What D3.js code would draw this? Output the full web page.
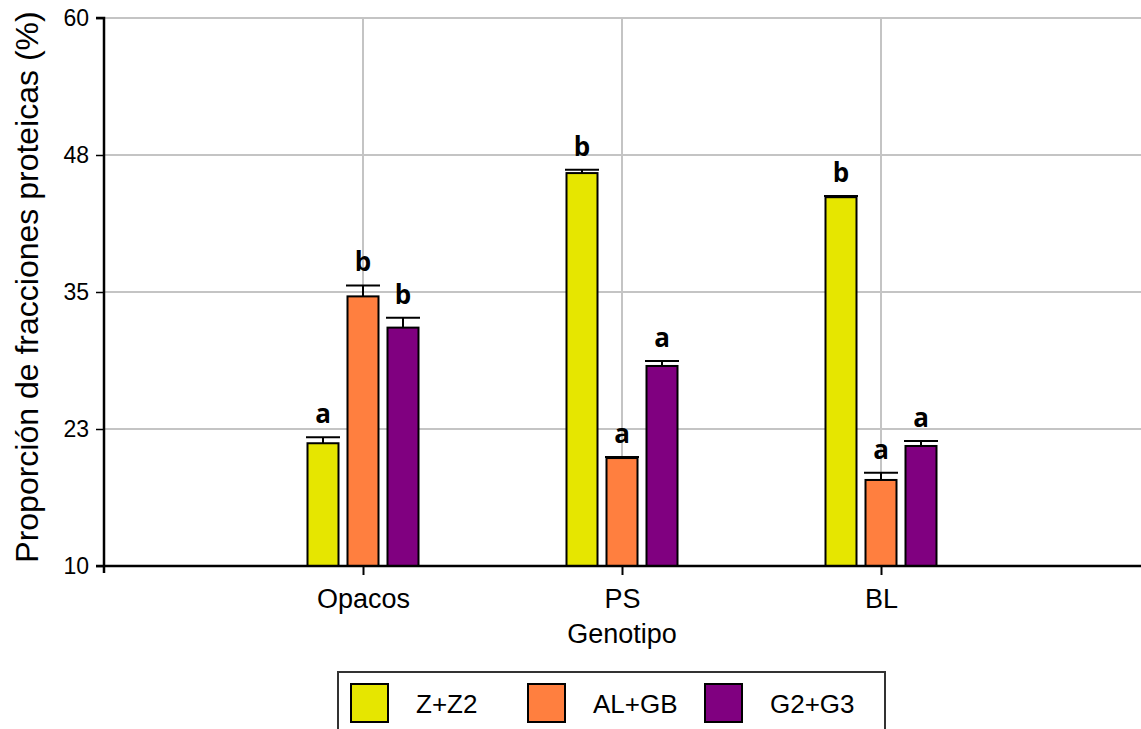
<!DOCTYPE html>
<html>
<head>
<meta charset="utf-8">
<script src="https://cdn.jsdelivr.net/npm/d3@7"></script>
<style>
  html, body { margin: 0; padding: 0; background: #ffffff; }
  svg { display: block; }
</style>
</head>
<body>
<svg id="chart" width="1141" height="729"></svg>
<script>
// Genotypes on the x axis and protein fraction groups in the legend
const categories = ["Opacos", "PS", "BL"];
const seriesNames = ["Z+Z2", "AL+GB", "G2+G3"];
const seriesColors = ["#e6e600", "#ff7f3f", "#800080"];

// Mean proportion (%) per genotype, with error bar half-length
const zValues = [21.2, 45.85, 43.65];
const zErrors = [0.55, 0.3, 0.1];
const alValues = [34.6, 19.85, 17.85];
const alErrors = [1.0, 0.1, 0.65];
const gValues = [31.75, 28.25, 20.95];
const gErrors = [0.9, 0.45, 0.45];

// Significance letters
const zLetters = ["a", "b", "b"];
const alLetters = ["b", "a", "a"];
const gLetters = ["b", "a", "a"];

// Y axis ticks and the labels printed next to them
const yTickValues = [10, 22.5, 35, 47.5, 60];
const yTickLabels = ["10", "23", "35", "48", "60"];

const yTitle = "Proporción de fracciones proteicas (%)";
const xTitle = "Genotipo";

const seriesValues = [zValues, alValues, gValues];
const seriesErrors = [zErrors, alErrors, gErrors];
const seriesLetters = [zLetters, alLetters, gLetters];

const rows = [];
categories.forEach((c, i) => {
  seriesNames.forEach((s, j) => {
    rows.push({
      category: c, series: s, color: seriesColors[j],
      value: seriesValues[j][i], error: seriesErrors[j][i], letter: seriesLetters[j][i]
    });
  });
});

const svg = d3.select("#chart");
const plotLeft = 104, plotRight = 1140, plotTop = 18, plotBottom = 566;

const x = d3.scalePoint().domain(categories).range([plotLeft, plotRight]).padding(1);
const xs = d3.scaleBand().domain(seriesNames).range([-60, 60])
  .paddingInner(0.225).paddingOuter(0.1125);
const y = d3.scaleLinear().domain([10, 60]).range([plotBottom, plotTop]);

const fontSans = "Arial, 'Liberation Sans', sans-serif";
const barCenter = d => x(d.category) + xs(d.series) + xs.bandwidth() / 2;

// Grid
const grid = svg.append("g").attr("stroke", "#c4c4c4").attr("stroke-width", 2);
grid.selectAll("line.h").data(yTickValues.slice(1)).join("line")
  .attr("class", "h")
  .attr("x1", plotLeft).attr("x2", 1141)
  .attr("y1", d => y(d)).attr("y2", d => y(d));
grid.selectAll("line.v").data(categories).join("line")
  .attr("class", "v")
  .attr("x1", d => x(d)).attr("x2", d => x(d))
  .attr("y1", y(60)).attr("y2", plotBottom);

// Bars
svg.append("g").selectAll("rect").data(rows).join("rect")
  .attr("x", d => x(d.category) + xs(d.series))
  .attr("width", xs.bandwidth())
  .attr("y", d => y(d.value))
  .attr("height", d => y(10) - y(d.value))
  .attr("fill", d => d.color)
  .attr("stroke", "#000")
  .attr("stroke-width", 2);

// Error bars
const eb = svg.append("g").attr("stroke", "#000").attr("stroke-width", 2);
eb.selectAll("line.stem").data(rows).join("line")
  .attr("class", "stem")
  .attr("x1", barCenter).attr("x2", barCenter)
  .attr("y1", d => y(d.value))
  .attr("y2", d => y(d.value + d.error));
eb.selectAll("line.cap").data(rows).join("line")
  .attr("class", "cap")
  .attr("x1", d => barCenter(d) - 17)
  .attr("x2", d => barCenter(d) + 17)
  .attr("y1", d => y(d.value + d.error))
  .attr("y2", d => y(d.value + d.error));

// Significance letters
svg.append("g").selectAll("text").data(rows).join("text")
  .attr("x", barCenter)
  .attr("y", d => y(d.value + d.error) - 14)
  .attr("text-anchor", "middle")
  .attr("font-family", "'Open Sans', 'DejaVu Sans', sans-serif")
  .attr("font-weight", "bold")
  .attr("font-size", 26)
  .attr("fill", "#000")
  .text(d => d.letter);

// Y axis
const yAxis = d3.axisLeft(y).tickValues(yTickValues)
  .tickFormat((d, i) => yTickLabels[i]).tickSize(8).tickPadding(7);
const gy = svg.append("g").attr("transform", `translate(${plotLeft},0)`).call(yAxis);
gy.select(".domain").attr("stroke", "#000").attr("stroke-width", 2.5)
  .attr("d", `M-8,${plotTop}H0V${plotBottom + 7}`);
gy.selectAll(".tick line").attr("stroke", "#000").attr("stroke-width", 1.5);
gy.selectAll(".tick text").attr("font-family", fontSans).attr("font-size", 23)
  .attr("fill", "#000");

// X axis
const xAxis = d3.axisBottom(x).tickSize(9).tickPadding(14);
const gx = svg.append("g").attr("transform", `translate(0,${plotBottom})`).call(xAxis);
gx.select(".domain").attr("stroke", "#000").attr("stroke-width", 2.5)
  .attr("d", `M${plotLeft - 8},0H1141`);
gx.selectAll(".tick line").attr("stroke", "#000").attr("stroke-width", 2);
gx.selectAll(".tick text").attr("font-family", fontSans).attr("font-size", 27)
  .attr("fill", "#000");

// Axis titles
svg.append("text")
  .attr("transform", `translate(38,287) rotate(-90)`)
  .attr("text-anchor", "middle")
  .attr("font-family", fontSans).attr("font-size", 32).attr("fill", "#000")
  .text(yTitle);
svg.append("text")
  .attr("x", x(categories[1])).attr("y", 643)
  .attr("text-anchor", "middle")
  .attr("font-family", fontSans).attr("font-size", 27).attr("fill", "#000")
  .text(xTitle);

// Legend
const legend = svg.append("g");
legend.append("rect")
  .attr("x", 338).attr("y", 672).attr("width", 547).attr("height", 80)
  .attr("fill", "none").attr("stroke", "#333").attr("stroke-width", 2);
const legendX = d3.scalePoint().domain(seriesNames).range([351, 705]);
const item = legend.selectAll("g.item").data(seriesNames).join("g")
  .attr("class", "item")
  .attr("transform", d => `translate(${legendX(d)},684)`);
item.append("rect")
  .attr("width", 37).attr("height", 38)
  .attr("fill", (d, i) => seriesColors[i])
  .attr("stroke", "#000").attr("stroke-width", 2);
item.append("text")
  .attr("x", 65).attr("y", 29)
  .attr("font-family", fontSans).attr("font-size", 26).attr("fill", "#000")
  .text(d => d);
</script>
</body>
</html>
